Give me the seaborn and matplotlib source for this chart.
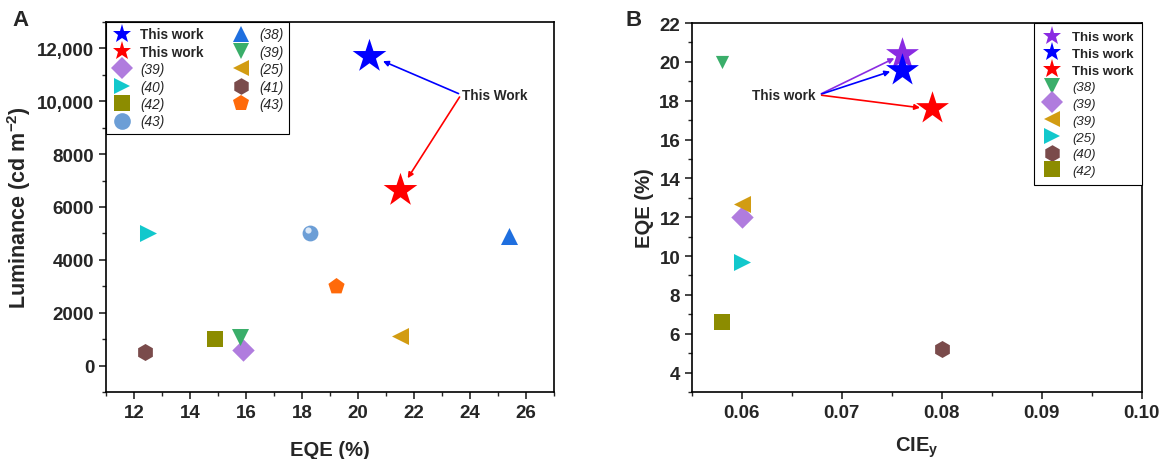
import matplotlib
matplotlib.use("Agg")
import matplotlib.pyplot as plt
import seaborn as sns
from matplotlib.lines import Line2D
from matplotlib.ticker import MultipleLocator

# Panel A: EQE (%) vs luminance
a_labels = ["This work", "This work", "(39)", "(40)", "(42)", "(43)",
            "(38)", "(39)", "(25)", "(41)", "(43)"]
a_eqe = [20.4, 21.5, 15.9, 12.5, 14.9, 18.3, 25.4, 15.8, 21.5, 12.4, 19.2]
a_lum = [11700, 6650, 570, 5000, 1000, 5000, 4900, 1080, 1130, 500, 3000]
a_markers = ["*", "*", "D", ">", "s", "o", "^", "v", "<", "h", "p"]
a_colors = ["#0000FF", "#FF0000", "#B07CDE", "#12C8CC", "#8C8C00", "#6C9ED6",
            "#1F6FDF", "#3AAE6A", "#D29C12", "#7A4B4B", "#FF6A0A"]
a_sizes = [650, 650, 130, 150, 120, 130, 150, 150, 150, 150, 150]
a_yticks = [0, 2000, 4000, 6000, 8000, 10000, 12000]
a_yticklabels = ["0", "2000", "4000", "6000", "8000", "10,000", "12,000"]

# Panel B: CIEy vs EQE (%)
b_labels = ["This work", "This work", "This work", "(38)", "(39)", "(39)",
            "(25)", "(40)", "(42)"]
b_cie = [0.076, 0.076, 0.079, 0.058, 0.060, 0.060, 0.060, 0.080, 0.058]
b_eqe = [20.4, 19.6, 17.6, 20.0, 12.0, 12.7, 9.7, 5.2, 6.6]
b_markers = ["*", "*", "*", "v", "D", "<", ">", "h", "s"]
b_colors = ["#8A2BE2", "#0000FF", "#FF0000", "#3AAE6A", "#B07CDE", "#D29C12",
            "#12C8CC", "#7A4B4B", "#8C8C00"]
b_sizes = [620, 620, 620, 90, 130, 150, 150, 150, 120]

sns.set_style("ticks")
plt.rcParams["font.family"] = ["Liberation Sans", "DejaVu Sans"]
plt.rcParams["mathtext.fontset"] = "custom"
plt.rcParams["mathtext.rm"] = "Liberation Sans"
plt.rcParams["mathtext.bf"] = "Liberation Sans:bold"
plt.rcParams["mathtext.it"] = "Liberation Sans:italic"

fig = plt.figure(figsize=(11.61, 4.6), dpi=100)
axA = fig.add_axes([0.0913, 0.1457, 0.3859, 0.8043])
axB = fig.add_axes([0.596, 0.1457, 0.3874, 0.802])


def style_axis(ax):
    for sp in ax.spines.values():
        sp.set_linewidth(1.2)
        sp.set_color("black")
    ax.tick_params(which="major", direction="out", length=5, width=1.2,
                   labelsize=13.5, top=False, right=False)
    ax.tick_params(which="minor", direction="out", length=3, width=1.0,
                   top=False, right=False)
    for t in ax.get_xticklabels() + ax.get_yticklabels():
        t.set_fontweight("bold")


def make_legend(ax, labels, markers, colors, ms, fsize, **kw):
    handles = [Line2D([], [], linestyle="none", marker=m, color=c,
                      markersize=s, markeredgewidth=0)
               for m, c, s in zip(markers, colors, ms)]
    leg = ax.legend(handles, labels, fancybox=False, framealpha=1,
                    edgecolor="black", prop={"size": fsize}, **kw)
    leg.get_frame().set_linewidth(0.8)
    for t in leg.get_texts():
        if t.get_text() == "This work":
            t.set_fontweight("bold")
        else:
            t.set_fontstyle("italic")
    return leg


# ---- Panel A
for i in range(len(a_eqe)):
    sns.scatterplot(x=[a_eqe[i]], y=[a_lum[i]], marker=a_markers[i], s=a_sizes[i],
                    color=a_colors[i], linewidth=0, ax=axA, zorder=3)
# small highlight on the sphere marker
sns.scatterplot(x=[a_eqe[5] - 0.08], y=[a_lum[5] + 120], marker="o", s=20,
                color="#DDE9F7", linewidth=0, ax=axA, zorder=4)

axA.set_xlim(11, 27)
axA.set_ylim(-1000, 13000)
axA.xaxis.set_major_locator(MultipleLocator(2))
axA.xaxis.set_minor_locator(MultipleLocator(1))
axA.set_yticks(a_yticks)
axA.set_yticklabels(a_yticklabels)
axA.yaxis.set_minor_locator(MultipleLocator(1000))
axA.set_xlabel("EQE (%)", fontsize=14.5, fontweight="bold", labelpad=14)
axA.set_ylabel(r"Luminance (cd m$^{\mathbf{-2}}$)", fontsize=15.5, fontweight="bold", labelpad=3)
style_axis(axA)

a_ms = [14, 14, 11, 12, 11, 12, 12, 12, 12, 12, 12]
make_legend(axA, a_labels, a_markers, a_colors, a_ms, 9.8, ncol=2, loc="upper left",
            borderaxespad=0, handletextpad=0.6, columnspacing=2.0,
            labelspacing=0.25, handlelength=1.5)

axA.text(23.7, 10250, "This Work", fontsize=9.8, fontweight="bold", va="center", ha="left")
axA.annotate("", xy=(20.8, 11560), xytext=(23.68, 10250),
             arrowprops=dict(arrowstyle="-|>", color="#0000FF", lw=1.2, mutation_scale=8))
axA.annotate("", xy=(21.72, 7000), xytext=(23.68, 10250),
             arrowprops=dict(arrowstyle="-|>", color="#FF0000", lw=1.2, mutation_scale=8))

# ---- Panel B
for i in range(len(b_cie)):
    sns.scatterplot(x=[b_cie[i]], y=[b_eqe[i]], marker=b_markers[i], s=b_sizes[i],
                    color=b_colors[i], linewidth=0, ax=axB, zorder=3)

axB.set_xlim(0.055, 0.10)
axB.set_ylim(3, 22)
axB.xaxis.set_minor_locator(MultipleLocator(0.005))
axB.yaxis.set_major_locator(MultipleLocator(2))
axB.yaxis.set_minor_locator(MultipleLocator(1))
axB.set_xticks([0.06, 0.07, 0.08, 0.09, 0.10])
axB.set_xticklabels(["0.06", "0.07", "0.08", "0.09", "0.10"])
axB.set_xlabel(r"CIE$_\mathbf{y}$", fontsize=14.5, fontweight="bold", labelpad=10)
axB.set_ylabel("EQE (%)", fontsize=14.5, fontweight="bold", labelpad=4)
style_axis(axB)

b_ms = [14, 14, 14, 11, 11, 12, 12, 12, 11]
make_legend(axB, b_labels, b_markers, b_colors, b_ms, 9.5, loc="upper right",
            borderaxespad=0, handletextpad=0.8, labelspacing=0.34,
            handlelength=1.5, borderpad=0.6)

axB.text(0.0674, 18.3, "This work", fontsize=9.8, fontweight="bold", va="center", ha="right")
for xe, ye, c in [(0.0755, 20.25, "#8A2BE2"), (0.0751, 19.55, "#0000FF"), (0.0781, 17.62, "#FF0000")]:
    axB.annotate("", xy=(xe, ye), xytext=(0.0677, 18.3),
                 arrowprops=dict(arrowstyle="-|>", color=c, lw=1.2, mutation_scale=8))

fig.text(0.011, 0.955, "A", fontsize=16, fontweight="bold", va="center")
fig.text(0.539, 0.955, "B", fontsize=16, fontweight="bold", va="center")

fig.savefig("out.png", dpi=100)
